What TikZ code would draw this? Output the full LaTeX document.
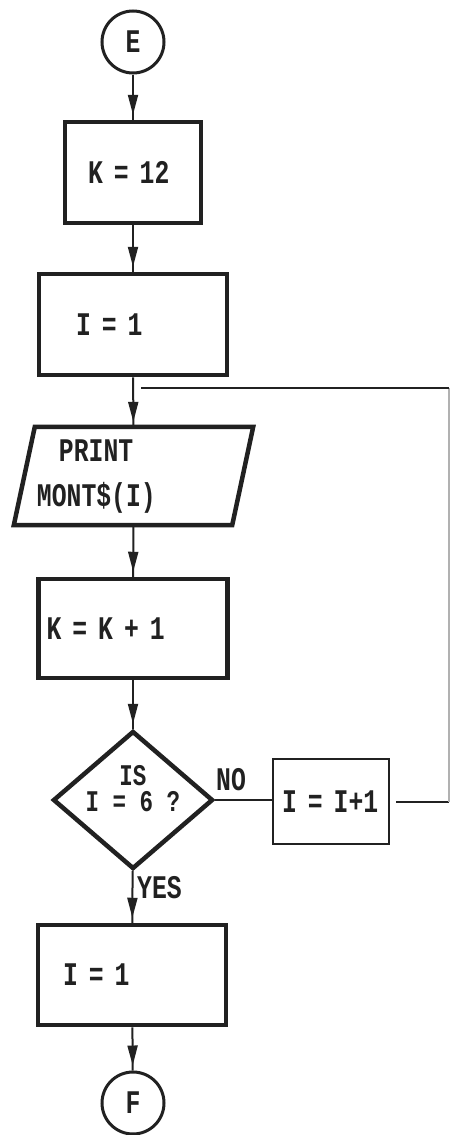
\documentclass[tikz,border=0pt]{standalone}
\usepackage{fontspec}
\newfontfamily\dotfont{Liberation Mono}[FakeStretch=0.75]
\usetikzlibrary{shapes.geometric,arrows.meta,decorations.markings}
\definecolor{ink}{gray}{0.13}
\newcommand\stackc[3]{\vbox{\baselineskip=#1\relax\lineskiplimit=-100pt\relax\halign{\hfil##\hfil\cr#2\cr#3\cr}}}
\newcommand\stackl[3]{\vbox{\baselineskip=#1\relax\lineskiplimit=-100pt\relax\halign{##\hfil\cr#2\cr#3\cr}}}
\begin{document}
\begin{tikzpicture}[x=1pt,y=-1pt,
  txt/.style={font=\dotfont\bfseries\fontsize{33}{37}\selectfont, text=ink},
  box/.style={rectangle, draw=ink, line width=4.5pt, align=left, txt, inner ysep=0pt},
  circ/.style={circle, draw=ink, line width=3pt, minimum size=62pt, inner sep=0pt, txt},
  conn/.style={draw=ink, line width=2pt},
  flow/.style={conn, postaction={decorate},
    decoration={markings, mark=at position -5pt with {\arrow[ink]{Triangle[length=20pt,width=10pt]}}}},
  faint/.style={draw=ink!35, line width=1.5pt}
]
\useasboundingbox (0,0) rectangle (450,1135);
\fill[white] (0,0) rectangle (450,1135);

\node[circ] (E) at (133,42) {E};
\node[box, minimum height=101pt, text width=90pt, inner xsep=23pt] (K12) at (133,172.5) {K = 12};
\node[box, minimum height=101pt, text width=114pt, inner xsep=37pt] (I1) at (133,324.5) {I = 1};
\node[txt, align=left, text width=193pt, inner xsep=23pt, inner ysep=0pt, minimum height=98pt] (PR) at (133.5,476)
  {\raisebox{-30.7pt}[0pt][0pt]{\stackl{45pt}{~~PRINT}{MONT\$(I)}}};
\draw[ink, line width=4.5pt, line join=miter]
  ([xshift=21pt]PR.north west) -- (PR.north east) -- ([xshift=-21pt]PR.south east) -- (PR.south west) -- cycle;
\node[box, minimum height=99pt, text width=173pt, inner xsep=8pt] (KK) at (133,628.5) {K = K + 1};
\node[diamond, draw=ink, line width=4.5pt, minimum width=160pt, minimum height=138pt, inner sep=0pt, txt,
  font=\dotfont\bfseries\fontsize{30}{34}\selectfont] (D) at (133,800)
  {\raisebox{-11pt}[0pt][0pt]{\stackc{26pt}{IS}{I = 6 ?}}};
\node[box, line width=2pt, minimum height=85pt, text width=98pt, inner xsep=9pt] (INC) at (331,801.5) {I = I+1};
\node[box, minimum height=100pt, text width=138pt, inner xsep=25pt] (I2) at (132,975) {I = 1};
\node[circ] (F) at (133,1103) {F};

\node[txt, anchor=west, inner sep=0pt] (NO) at (216,780) {NO};
\node[txt, anchor=west, inner sep=0pt] (YES) at (137,888) {YES};

\coordinate (RT) at (449.2,388);
\coordinate (JN) at (141,388);

\draw[flow] (E) -- (K12);
\draw[flow] (K12) -- (I1);
\draw[flow] (I1) -- (PR);
\draw[flow] (PR) -- (KK);
\draw[flow] (KK) -- (D);
\draw[conn] (D.east) -- (D.east -| INC.west);
\draw[flow] (D) -- (I2);
\draw[flow] (I2) -- (F);
\draw[conn, shorten <=6pt] (INC.east) -- (INC.east -| RT);
\draw[faint] (INC.east -| RT) -- (RT);
\draw[conn] (RT) -- (JN);
\end{tikzpicture}
\end{document}
